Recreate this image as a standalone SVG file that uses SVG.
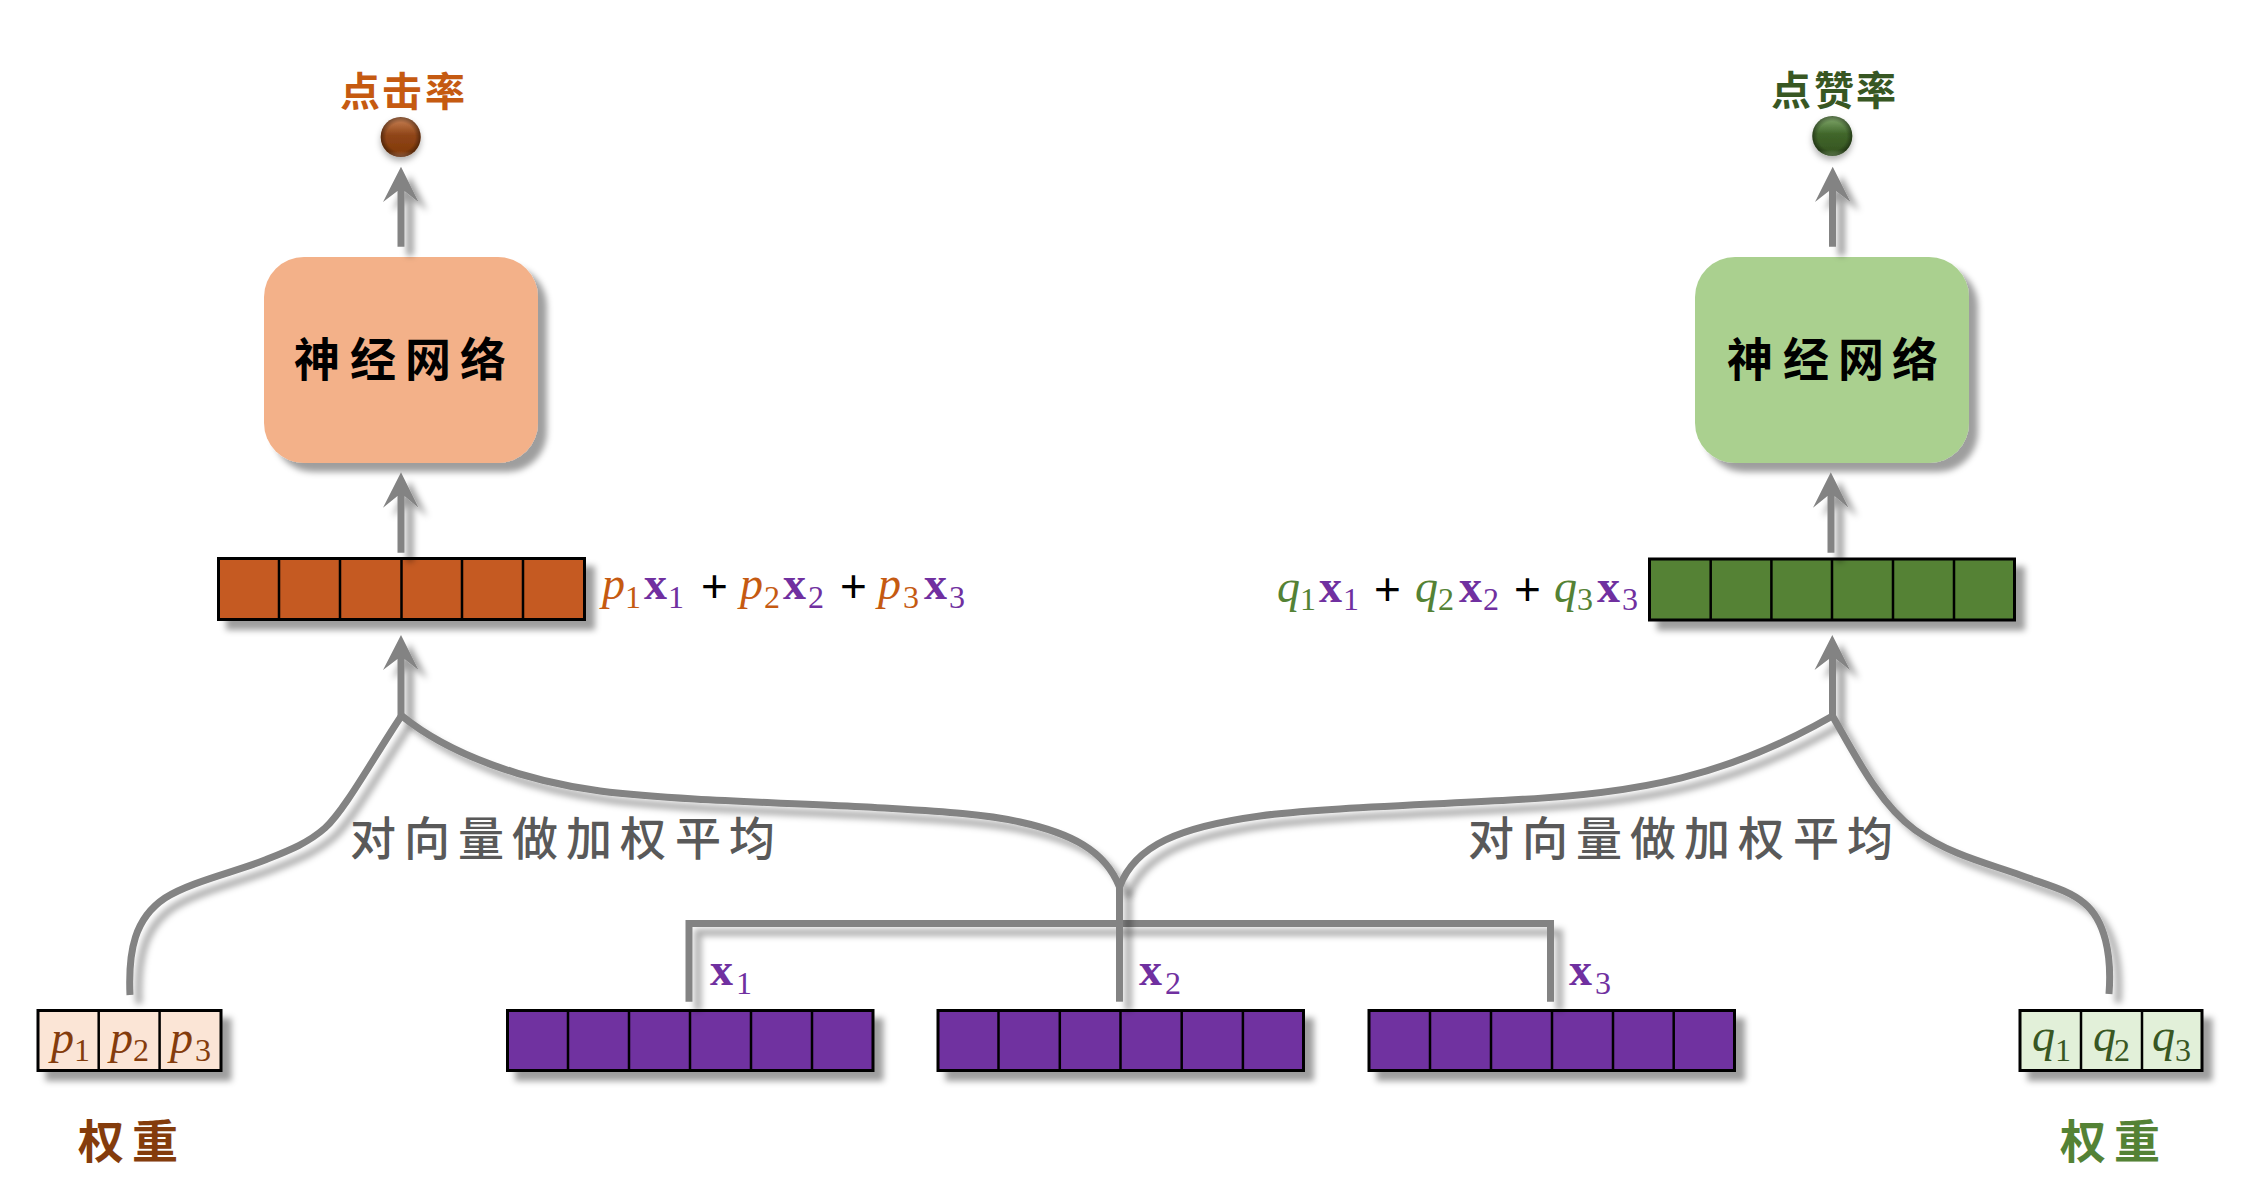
<svg xmlns="http://www.w3.org/2000/svg" width="2254" height="1194" viewBox="0 0 2254 1194">
<style>
.sh{filter:url(#shadow)}
.cn{fill:none;stroke:#838383;stroke-width:7}
.ar{fill:#838383;stroke:none}
.cell{stroke:#000;stroke-width:3}
.div{fill:none;stroke:#000;stroke-width:2.5}
.cjk{font-family:"Noto Sans CJK SC","Noto Sans",sans-serif}
.hv{font-weight:700}
.md{font-weight:500}
.it{font-family:"Liberation Serif",serif;font-style:italic;font-size:46px}
.bx{font-family:"Liberation Serif",serif;font-weight:700;font-size:46px;fill:#7030A0}
.sb{font-family:"Liberation Serif",serif;font-size:32px}
.pl{font-family:"Liberation Sans",sans-serif;font-size:46px;fill:#000}
.or{fill:#C55A11}.gr{fill:#548235}.bn{fill:#843C0C}.dg{fill:#385723}.pu{fill:#7030A0}
</style>
<defs>
<filter id="shadow" x="-30%" y="-30%" width="170%" height="170%" filterUnits="objectBoundingBox">
<feDropShadow dx="9" dy="9" stdDeviation="3" flood-color="#000" flood-opacity="0.38"/>
</filter>
<filter id="shadowLine" filterUnits="userSpaceOnUse" x="0" y="600" width="2254" height="500">
<feDropShadow dx="9" dy="9" stdDeviation="3" flood-color="#000" flood-opacity="0.32"/>
</filter>
<filter id="ballShadow" x="-40%" y="-40%" width="180%" height="180%">
<feDropShadow dx="0" dy="4" stdDeviation="3" flood-color="#000" flood-opacity="0.3"/>
</filter>
<linearGradient id="ballO" x1="0" y1="0" x2="0" y2="1">
<stop offset="0" stop-color="#CC8558"/><stop offset="0.45" stop-color="#8F4518"/><stop offset="0.85" stop-color="#843C0C"/><stop offset="1" stop-color="#C07A50"/>
</linearGradient>
<linearGradient id="ballG" x1="0" y1="0" x2="0" y2="1">
<stop offset="0" stop-color="#86AD70"/><stop offset="0.45" stop-color="#40662A"/><stop offset="0.85" stop-color="#385723"/><stop offset="1" stop-color="#7FA56A"/>
</linearGradient>
<radialGradient id="ballEdge" cx="0.5" cy="0.5" r="0.5">
<stop offset="0.72" stop-color="#000" stop-opacity="0"/><stop offset="1" stop-color="#000" stop-opacity="0.4"/>
</radialGradient>
</defs>
<rect width="2254" height="1194" fill="#fff"/>

<g id="label-click">
<text class="cjk hv or" font-size="40" x="340 382 425" y="106">点击率</text>
</g>
<g id="ball-click">
<circle cx="400.7" cy="137" r="20" fill="url(#ballO)" filter="url(#ballShadow)"/>
<circle cx="400.7" cy="137" r="20" fill="url(#ballEdge)"/>
</g>
<g id="label-like">
<text class="cjk hv dg" font-size="40" x="1771 1814 1856" y="105">点赞率</text>
</g>
<g id="ball-like">
<circle cx="1832.3" cy="136" r="20" fill="url(#ballG)" filter="url(#ballShadow)"/>
<circle cx="1832.3" cy="136" r="20" fill="url(#ballEdge)"/>
</g>

<g id="nn-left">
<rect class="sh" x="264" y="257" width="274" height="206" rx="40" fill="#F3B189"/>
<text class="cjk hv" font-size="46" fill="#000" x="294 350 405 460" y="375.5">神经网络</text>
</g>
<g id="nn-right">
<rect class="sh" x="1695" y="257" width="274" height="206" rx="40" fill="#AAD08F"/>
<text class="cjk hv" font-size="46" fill="#000" x="1727 1783 1838 1892" y="375.5">神经网络</text>
</g>

<g id="bar-orange">
<rect class="cell sh" x="218.5" y="558.5" width="366" height="61" fill="#C55A20"/>
<path class="div" d="M279 558V620M340 558V620M401.5 558V620M462 558V620M523 558V620"/>
</g>
<g id="formula-left">
<text class="it or" x="602" y="598.5">p</text><text class="sb or" x="625" y="607.5">1</text>
<text class="bx" x="644" y="598.5">x</text><text class="sb pu" x="668" y="607.5">1</text>
<text class="pl" x="701" y="601.5">+</text>
<text class="it or" x="740" y="598.5">p</text><text class="sb or" x="764" y="607.5">2</text>
<text class="bx" x="783" y="598.5">x</text><text class="sb pu" x="808" y="607.5">2</text>
<text class="pl" x="840" y="601.5">+</text>
<text class="it or" x="878" y="598.5">p</text><text class="sb or" x="903" y="607.5">3</text>
<text class="bx" x="924" y="598.5">x</text><text class="sb pu" x="949" y="607.5">3</text>
</g>

<g id="bar-green">
<rect class="cell sh" x="1649.5" y="559" width="365" height="61" fill="#548235"/>
<path class="div" d="M1710.7 558V620M1771.4 558V620M1832 558V620M1893 558V620M1954 558V620"/>
</g>
<g id="formula-right">
<text class="it gr" x="1277" y="601.5">q</text><text class="sb gr" x="1300" y="610">1</text>
<text class="bx" x="1319" y="601.5">x</text><text class="sb pu" x="1343" y="610">1</text>
<text class="pl" x="1374" y="604.5">+</text>
<text class="it gr" x="1415" y="601.5">q</text><text class="sb gr" x="1438" y="610">2</text>
<text class="bx" x="1459" y="601.5">x</text><text class="sb pu" x="1483" y="610">2</text>
<text class="pl" x="1514" y="604.5">+</text>
<text class="it gr" x="1554" y="601.5">q</text><text class="sb gr" x="1577" y="610">3</text>
<text class="bx" x="1597" y="601.5">x</text><text class="sb pu" x="1622" y="610">3</text>
</g>

<g id="weights-p">
<rect class="cell sh" x="38" y="1010.5" width="183" height="60" fill="#FBE5D6"/>
<path class="div" d="M98.7 1010V1071M159.6 1010V1071"/>
<text class="it bn" x="51" y="1052.5">p</text><text class="sb bn" x="74" y="1061">1</text>
<text class="it bn" x="110" y="1052.5">p</text><text class="sb bn" x="133" y="1061">2</text>
<text class="it bn" x="170" y="1052.5">p</text><text class="sb bn" x="195" y="1061">3</text>
</g>
<g id="weights-q">
<rect class="cell sh" x="2020" y="1010.5" width="182" height="60" fill="#E2F0D9"/>
<path class="div" d="M2081 1010V1071M2142 1010V1071"/>
<text class="it dg" x="2032" y="1051">q</text><text class="sb dg" x="2055" y="1061">1</text>
<text class="it dg" x="2093" y="1051">q</text><text class="sb dg" x="2114" y="1061">2</text>
<text class="it dg" x="2152" y="1051">q</text><text class="sb dg" x="2175" y="1061">3</text>
</g>

<g id="vec-x1">
<rect class="cell sh" x="507.5" y="1010.5" width="365.5" height="60" fill="#7030A0"/>
<path class="div" d="M568 1010V1071M629 1010V1071M690 1010V1071M751 1010V1071M812 1010V1071"/>
<text class="bx" x="710" y="985">x</text><text class="sb pu" x="736" y="994">1</text>
</g>
<g id="vec-x2">
<rect class="cell sh" x="938" y="1010.5" width="365.5" height="60" fill="#7030A0"/>
<path class="div" d="M998.5 1010V1071M1059.8 1010V1071M1120.5 1010V1071M1181.7 1010V1071M1242.9 1010V1071"/>
<text class="bx" x="1139" y="985">x</text><text class="sb pu" x="1165" y="994">2</text>
</g>
<g id="vec-x3">
<rect class="cell sh" x="1369" y="1010.5" width="365.5" height="60" fill="#7030A0"/>
<path class="div" d="M1430 1010V1071M1491 1010V1071M1552 1010V1071M1613 1010V1071M1673.7 1010V1071"/>
<text class="bx" x="1569" y="985">x</text><text class="sb pu" x="1595" y="994">3</text>
</g>

<g id="label-avg-left">
<text class="cjk md" font-size="46" fill="#595959" x="350 404 458 512 566 620 675 729" y="854.5">对向量做加权平均</text>
</g>
<g id="label-avg-right">
<text class="cjk md" font-size="46" fill="#595959" x="1468 1522 1576 1630 1684 1738 1793 1847" y="854.5">对向量做加权平均</text>
</g>
<g id="label-weight-left">
<text class="cjk hv bn" font-size="46" x="78 132" y="1157.5">权重</text>
</g>
<g id="label-weight-right">
<text class="cjk hv gr" font-size="46" x="2060 2114" y="1157.5">权重</text>
</g>

<g id="connectors">
<path class="ar sh" d="M401 166.7L418.5 202L404.5 191V246.7H397.5V191L383 202Z"/>
<path class="ar sh" d="M401 472.3L418.5 507.7L404.5 496V552.7H397.5V496L383 507.7Z"/>
<path class="ar sh" d="M401 635L418.5 670L404.5 659V716H397.5V659L383 670Z"/>
<path class="ar sh" d="M1832.7 166.7L1850.5 202L1836 191V246.7H1829V191L1815 202Z"/>
<path class="ar sh" d="M1830.8 472.3L1848.5 507.7L1834.5 496V552.7H1827.5V496L1813 507.7Z"/>
<path class="ar sh" d="M1832.3 635L1850 670L1836 659V716H1829V659L1814.5 670Z"/>
<path class="cn" filter="url(#shadowLine)" d="M130 995C128 950 135 918 165 898C190 882 235 872 265 860C290 850 308 843 325 828C345 810 375 755 402 715"/>
<path class="cn" filter="url(#shadowLine)" d="M402 716C450 755 525 781 600 791C680 801 800 803 867 807C930 811 980 813 1020 822C1070 833 1105 850 1119.5 887"/>
<path class="cn" filter="url(#shadowLine)" d="M1119.5 887C1135 845 1180 827 1260 816C1310 809 1400 806 1510 800C1640 794 1730 775 1832.5 716"/>
<path class="cn" filter="url(#shadowLine)" d="M1832.5 716C1855 755 1880 805 1915 830C1950 855 1990 864 2020 875C2050 886 2068 890 2084 903C2105 920 2112 955 2109 994"/>
<path class="cn" filter="url(#shadowLine)" d="M689 1001.7V923.5H1550.5V1001.7"/>
<path class="cn" filter="url(#shadowLine)" d="M1119.5 885V1001.7"/>
</g>
</svg>
